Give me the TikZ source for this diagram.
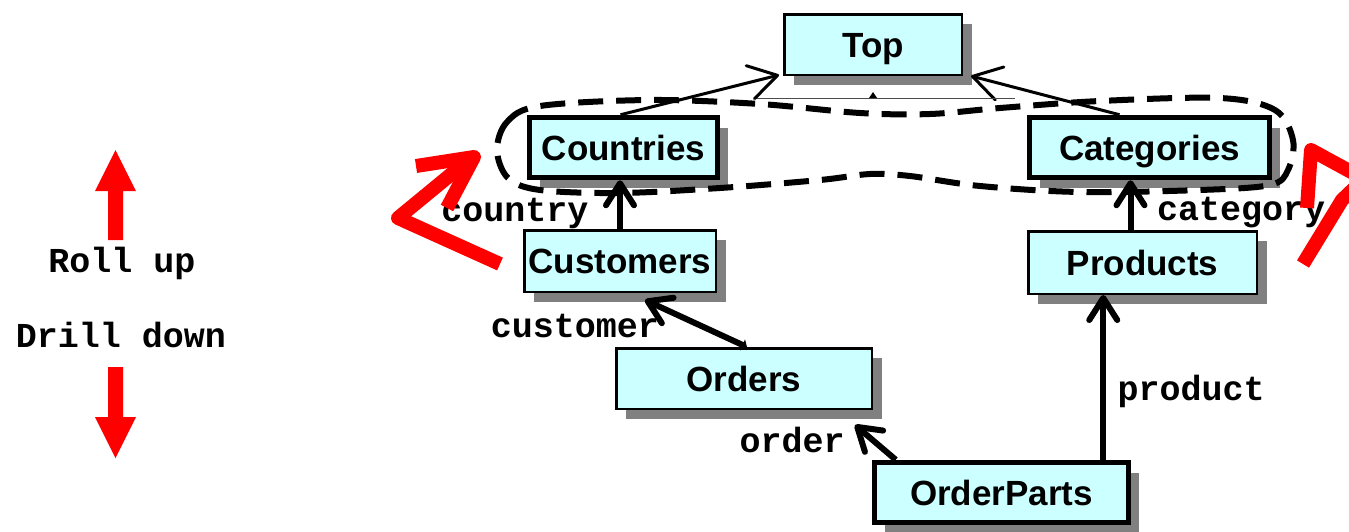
\documentclass[tikz,border=0pt]{standalone}
\usepackage{fontspec}
\setmainfont{Liberation Sans}
\newfontfamily\labelmono{Liberation Mono}
\usetikzlibrary{arrows.meta,shadows,calc}
\definecolor{boxcyan}{HTML}{CCFFFF}
\definecolor{shadowgray}{HTML}{808080}

\begin{document}
\begin{tikzpicture}[x=1pt,y=-1pt,
  tbl/.style={draw=black, fill=boxcyan, inner sep=0pt,
    text height=25pt, text depth=0pt,
    font=\bfseries\fontsize{35}{40}\selectfont,
    drop shadow={shadow xshift=10pt, shadow yshift=-10pt, fill=shadowgray, opacity=1}},
  thinbox/.style={tbl, line width=2.5pt},
  thickbox/.style={tbl, line width=5.5pt},
  mono/.style={font=\labelmono\bfseries\fontsize{35}{40}\selectfont, inner sep=0pt, anchor=base},
  uplink/.style={line width=3pt, -{Straight Barb[length=28pt,width=34pt,round]}},
  fklink/.style={line width=6pt, -{Straight Barb[length=22pt,width=28pt,round]}},
  hier/.style={line width=6pt, dash pattern=on 25pt off 13pt},
  redstroke/.style={red, line width=14pt, line join=round},
  bigarrow/.style={fill=red, draw=none}
]
\clip (0,0) rectangle (1349,531);

% dimension tables
\node[thinbox,  minimum width=177.5pt, minimum height=60.5pt] (top)  at (873,44.5)    {Top};
\node[thickbox, minimum width=188pt,   minimum height=60pt]   (cou)  at (623.5,147.5) {Countries};
\node[thickbox, minimum width=240pt,   minimum height=60pt]   (cat)  at (1149.5,147.5){Categories};
\node[thinbox,  minimum width=191.5pt, minimum height=61.5pt] (cus)  at (620,261)     {Customers};
\node[thinbox,  minimum width=228.5pt, minimum height=62.5pt] (prod) at (1142.5,262.5){Products};
\node[thinbox,  minimum width=255.5pt, minimum height=60.5pt] (ord)  at (744,378.5)   {Orders};
\node[thickbox, minimum width=254pt,   minimum height=60pt]   (op)   at (1001.5,492.5){OrderParts};

% the level grouping Countries and Categories
\draw[hier] plot[smooth cycle, tension=0.55] coordinates {
  (497,150) (507,122) (540,106) (650,100) (760,104) (860,113) (930,114)
  (1000,108) (1100,101) (1220,98) (1275,110) (1293,140) (1288,170) (1270,185)
  (1200,190) (1080,192) (980,186) (910,176) (870,174) (820,180) (720,188)
  (620,193) (540,190) (508,178)};

% links to the top level
\draw[uplink] ([xshift=-3pt]cou.north) -- ([xshift=-4pt,yshift=1pt]top.south west);
\draw[uplink] ([xshift=-30pt]cat.north) -- ([xshift=8pt]top.south east);
\draw[line width=0.6pt, black!70] (757,98) -- (1015,98);
\fill (869,98) -- (873,92) -- (877,98) -- cycle;

% foreign key links
\draw[fklink] (cus.north) -- (cus.north |- cou.south);
\draw[fklink] ([xshift=-12pt]prod.north) -- ([xshift=-12pt]prod.north |- cat.south);
\draw[fklink, {Triangle[length=5pt,width=12pt]}-{Straight Barb[length=22pt,width=28pt,round]}]
  ([xshift=3pt]ord.north) -- ([xshift=25pt,yshift=-7pt]cus.south);
\draw[fklink] ([xshift=24pt]op.north west) -- ([xshift=-18pt,yshift=-15pt]ord.south east);
\draw[fklink] ([xshift=-28pt]op.north east) -- ([xshift=-28pt]op.north east |- prod.south);

% link labels
\node[mono] (lcountry)  at (515,221)  {country};
\node[mono] (lcategory) at (1241,220) {category};
\node[mono] (lcustomer) at (575,337)  {customer};
\node[mono] (lorder)    at (792,452)  {order};
\node[mono] (lproduct)  at (1191,400) {product};

% roll up / drill down legend
\node[mono] (rollup)    at (122,272) {Roll up};
\node[mono] (drilldown) at (121,347) {Drill down};
\fill[bigarrow] (108,240) -- (123,240) -- (123,191) -- (136,191) -- (115.5,150)
  -- (95,191) -- (108,191) -- cycle;
\fill[bigarrow] (108,367) -- (123,367) -- (123,417) -- (136,417) -- (115.5,458)
  -- (95,417) -- (108,417) -- cycle;

% roll-up strokes beside the grouped level
\draw[redstroke] (500,264) -- (398,218) -- (466,162);
\draw[redstroke] (416,166) -- (474,157) -- (447,208);
\draw[redstroke] (1303,264) -- (1342,200) -- (1365,178);
\draw[redstroke] (1307,208) -- (1311,150) -- (1355,174);
\end{tikzpicture}
\end{document}
